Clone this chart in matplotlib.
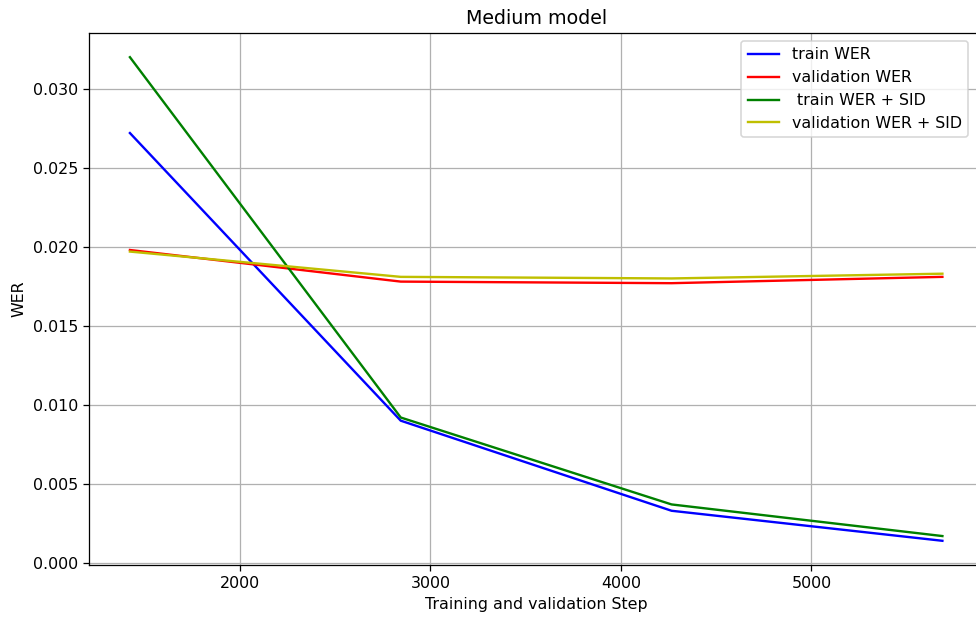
import matplotlib
matplotlib.use("Agg")
import matplotlib.pyplot as plt

steps = [1422, 2844, 4266, 5688]
train_wer = [0.0272, 0.0090, 0.0033, 0.0014]
val_wer = [0.0198, 0.0178, 0.0177, 0.0181]
train_wer_sid = [0.0320, 0.0092, 0.0037, 0.0017]
val_wer_sid = [0.0197, 0.0181, 0.0180, 0.0183]

DPI = 114
fig = plt.figure(figsize=(976 / DPI, 618 / DPI), dpi=DPI)
ax = fig.add_axes([0.0915, 0.0858, 0.9157, 0.8608])

ax.plot(steps, train_wer, "b", label="train WER")
ax.plot(steps, val_wer, "r", label="validation WER")
ax.plot(steps, train_wer_sid, "g", label=" train WER + SID")
ax.plot(steps, val_wer_sid, "y", label="validation WER + SID")

ax.set_title("Medium model")
ax.set_xlabel("Training and validation Step")
ax.set_ylabel("WER")
ax.grid(True)
ax.legend(loc="upper right", bbox_to_anchor=(0.9925, 1.0))

fig.savefig("out.png", dpi=DPI)
